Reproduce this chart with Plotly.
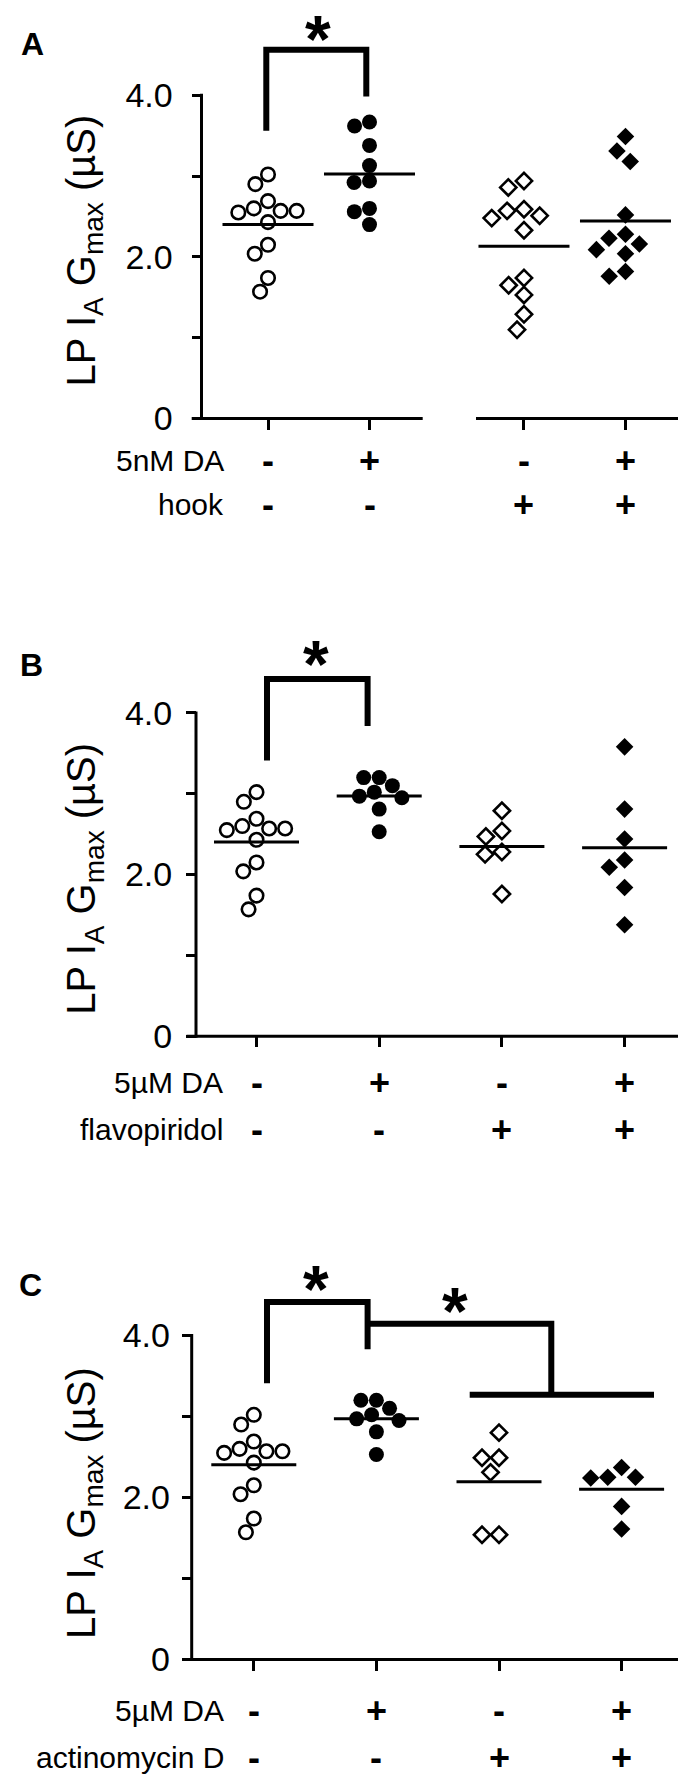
import math
import numpy as np
import plotly.graph_objects as go

W, H = 686, 1784

# ---------------- data ----------------
control = [3.02, 2.90, 2.69, 2.60, 2.57, 2.57, 2.55, 2.43, 2.15, 2.04, 1.74, 1.57]
A_da5nM = [3.67, 3.62, 3.38, 3.13, 2.94, 2.92, 2.60, 2.56, 2.40]
A_hook = [2.94, 2.86, 2.59, 2.57, 2.51, 2.48, 2.33, 1.74, 1.65, 1.53, 1.29, 1.10]
A_hook_da = [3.49, 3.31, 3.18, 2.52, 2.28, 2.23, 2.16, 2.09, 2.04, 1.82, 1.76]
da5uM = [3.20, 3.20, 3.10, 3.02, 2.97, 2.95, 2.81, 2.53]
B_flavo = [2.79, 2.54, 2.47, 2.28, 2.25, 1.76]
B_flavo_da = [3.58, 2.81, 2.44, 2.18, 2.09, 1.84, 1.38]
C_actd = [2.80, 2.49, 2.49, 2.31, 1.54, 1.54]
C_actd_da = [2.37, 2.25, 2.24, 2.25, 1.89, 1.61]

row1_signs = ["-", "+", "-", "+"]
row2_signs = ["-", "-", "+", "+"]
ytick_vals = [0, 2, 4]
ytick_text = ["0", "2.0", "4.0"]
yminor_vals = [1, 3]
ytitle = "LP I<sub>A</sub> G<sub>max</sub> (µS)"

# ---------------- layout constants (pixels) ----------------
FONT = "Liberation Sans, Arial, Helvetica, sans-serif"
panels = [
    dict(letter="A", groups=[control, A_da5nM, A_hook, A_hook_da],
         rows=("5nM DA", "hook"), zero=415, ppy=81.7, yax=193.5, cat0=260, ppx=101.5,
         gap=0.522, xline=[(183.7, 414.7), (468, 686)], top=0, hw=45.5,
         rowy=(457.5, 502), lab_r=217.5, standoff=12, title_y=245, let_xy=(24, 36),
         brackets=[[(258.3, 124), (258.3, 42.3), (358.3, 42.3), (358.3, 89.5)]],
         stars=[(310, 16)]),
    dict(letter="B", groups=[control, da5uM, B_flavo, B_flavo_da],
         rows=("5µM DA", "flavopiridol"), zero=1039.3, ppy=81.7, yax=188, cat0=248.5, ppx=122.7,
         gap=0.0, xline=[(178.5, 678)], top=600, hw=42.5,
         rowy=(1085.7, 1134), lab_r=217.4, standoff=7, title_y=880, let_xy=(23, 664),
         brackets=[[(259, 760.7), (259, 678.3), (359.6, 678.3), (359.6, 725.7)]],
         stars=[(308.4, 648)]),
    dict(letter="C", groups=[control, da5uM, C_actd, C_actd_da],
         rows=("5µM DA", "actinomycin D"), zero=1669.3, ppy=81.9, yax=183.7, cat0=245.8, ppx=122.6,
         gap=0.0, xline=[(175, 671.5)], top=1230, hw=42.5,
         rowy=(1720.5, 1768), lab_r=218, standoff=5, title_y=1511, let_xy=(22, 1291),
         brackets=[[(259, 1390), (259, 1308), (359.6, 1308), (359.6, 1355.7)],
                   [(359.6, 1330), (543.3, 1330), (543.3, 1401.7)],
                   [(461.7, 1401.7), (646, 1401.7)]],
         stars=[(308.4, 1280), (446.7, 1301.7)]),
]

styles = [
    dict(symbol="circle", size=13.5, color="white", line=dict(color="black", width=2.6), d=16.0),
    dict(symbol="circle", size=15, color="black", line=dict(color="black", width=0), d=15.5),
    dict(symbol="diamond", size=12.5, color="white", line=dict(color="black", width=2.6), d=17.0),
    dict(symbol="diamond", size=13.5, color="black", line=dict(color="black", width=0), d=17.0),
]


def PX(x):
    return x / W


def PY(y):
    return 1 - y / H


def beeswarm(vals, ppx, ppy, d):
    ys = np.asarray(vals, dtype=float) * ppy
    order = np.argsort(-ys, kind="stable")
    placed = []
    xs = np.zeros(len(ys))
    for i in order:
        y = ys[i]
        cands = [0.0]
        for xj, yj in placed:
            dy = abs(y - yj)
            if dy < d:
                dx = math.sqrt(d * d - dy * dy)
                cands += [xj + dx, xj - dx]
        cands.sort(key=lambda c: (round(abs(c), 6), c))
        for c in cands:
            if all((c - xj) ** 2 + (y - yj) ** 2 >= d * d - 1e-6 for xj, yj in placed):
                xs[i] = c
                break
        placed.append((xs[i], y))
    return xs / ppx


fig = go.Figure()
shapes = []
annotations = []
layout_axes = {}

for k, p in enumerate(panels):
    sfx = "" if k == 0 else str(k + 1)
    xname, yname = "x" + sfx, "y" + sfx
    positions = [0, 1, 2 + p["gap"], 3 + p["gap"]]
    ytop = (p["zero"] - p["top"]) / p["ppy"]

    # markers
    for g, (vals, st) in enumerate(zip(p["groups"], styles)):
        offs = beeswarm(vals, p["ppx"], p["ppy"], st["d"])
        fig.add_trace(go.Scatter(
            x=[positions[g] + o for o in offs], y=vals, mode="markers",
            xaxis=xname, yaxis=yname, showlegend=False, cliponaxis=False,
            marker=dict(symbol=st["symbol"], size=st["size"], color=st["color"], line=st["line"])))
    # mean lines
    hw = p["hw"] / p["ppx"]
    for g, vals in enumerate(p["groups"]):
        m = float(np.mean(vals))
        fig.add_trace(go.Scatter(
            x=[positions[g] - hw, positions[g] + hw], y=[m, m], mode="lines",
            xaxis=xname, yaxis=yname, showlegend=False, cliponaxis=False,
            line=dict(color="black", width=3)))

    layout_axes["xaxis" + sfx] = dict(
        domain=[0, 1], anchor=yname,
        range=[-p["cat0"] / p["ppx"], (W - p["cat0"]) / p["ppx"]],
        tickvals=positions, ticks="outside", ticklen=10, tickwidth=3, tickcolor="black",
        showticklabels=False, showline=False, showgrid=False, zeroline=False)
    layout_axes["yaxis" + sfx] = dict(
        domain=[PY(p["zero"]), PY(p["top"])], anchor="free", position=PX(p["yax"]),
        range=[0, ytop], tickvals=ytick_vals, ticktext=ytick_text,
        ticks="outside", ticklen=10, tickwidth=3, tickcolor="black",
        minor=dict(tickvals=yminor_vals, ticks="outside", ticklen=10, tickwidth=3,
                   tickcolor="black", showgrid=False),
        ticklabelstandoff=p["standoff"],
        tickfont=dict(family=FONT, size=34, color="black"),
        showline=False, showgrid=False, zeroline=False)

    # axis lines
    y4 = p["zero"] - 4 * p["ppy"]
    shapes.append(dict(type="line", xref="paper", yref="paper",
                       x0=PX(p["yax"]), x1=PX(p["yax"]), y0=PY(p["zero"] + 1.5), y1=PY(y4 - 1.5),
                       line=dict(color="black", width=3)))
    for a, b in p["xline"]:
        shapes.append(dict(type="line", xref="paper", yref="paper",
                           x0=PX(a), x1=PX(b), y0=PY(p["zero"]), y1=PY(p["zero"]),
                           line=dict(color="black", width=3)))
    # significance brackets
    for br in p["brackets"]:
        path = "M " + " L ".join(f"{PX(x):.6f},{PY(y):.6f}" for x, y in br)
        shapes.append(dict(type="path", xref="paper", yref="paper", path=path,
                           line=dict(color="black", width=6)))
    for sx, sy in p["stars"]:
        annotations.append(dict(text="<b>*</b>", x=PX(sx), y=PY(sy), xref="paper", yref="paper",
                                xanchor="center", yanchor="middle", yshift=-15, showarrow=False,
                                font=dict(family=FONT, size=66, color="black")))

    # panel letter and y title
    lx, ly = p["let_xy"]
    annotations.append(dict(text="<b>" + p["letter"] + "</b>", x=PX(lx), y=PY(ly),
                            xref="paper", yref="paper", xanchor="center", yanchor="middle",
                            showarrow=False, font=dict(family=FONT, size=32, color="black")))
    annotations.append(dict(text=ytitle, textangle=-90, x=PX(76), y=PY(p["title_y"]),
                            xref="paper", yref="paper", xanchor="center", yanchor="middle",
                            showarrow=False, font=dict(family=FONT, size=40, color="black")))

    # condition rows
    for r, (lab, signs) in enumerate(zip(p["rows"], [row1_signs, row2_signs])):
        ry = p["rowy"][r]
        annotations.append(dict(text=lab, x=PX(p["lab_r"]), y=PY(ry), xref="paper", yref="paper",
                                xanchor="right", yanchor="middle", showarrow=False,
                                font=dict(family=FONT, size=30, color="black")))
        for g, s in enumerate(signs):
            annotations.append(dict(text="<b>" + s + "</b>", x=positions[g], y=PY(ry),
                                    xref=xname, yref="paper", xanchor="center", yanchor="middle",
                                    showarrow=False, font=dict(family=FONT, size=36, color="black")))

fig.update_layout(
    width=W, height=H, margin=dict(l=0, r=0, t=0, b=0),
    paper_bgcolor="white", plot_bgcolor="white",
    shapes=shapes, annotations=annotations, showlegend=False,
    **layout_axes)

fig.write_html("out.html")
